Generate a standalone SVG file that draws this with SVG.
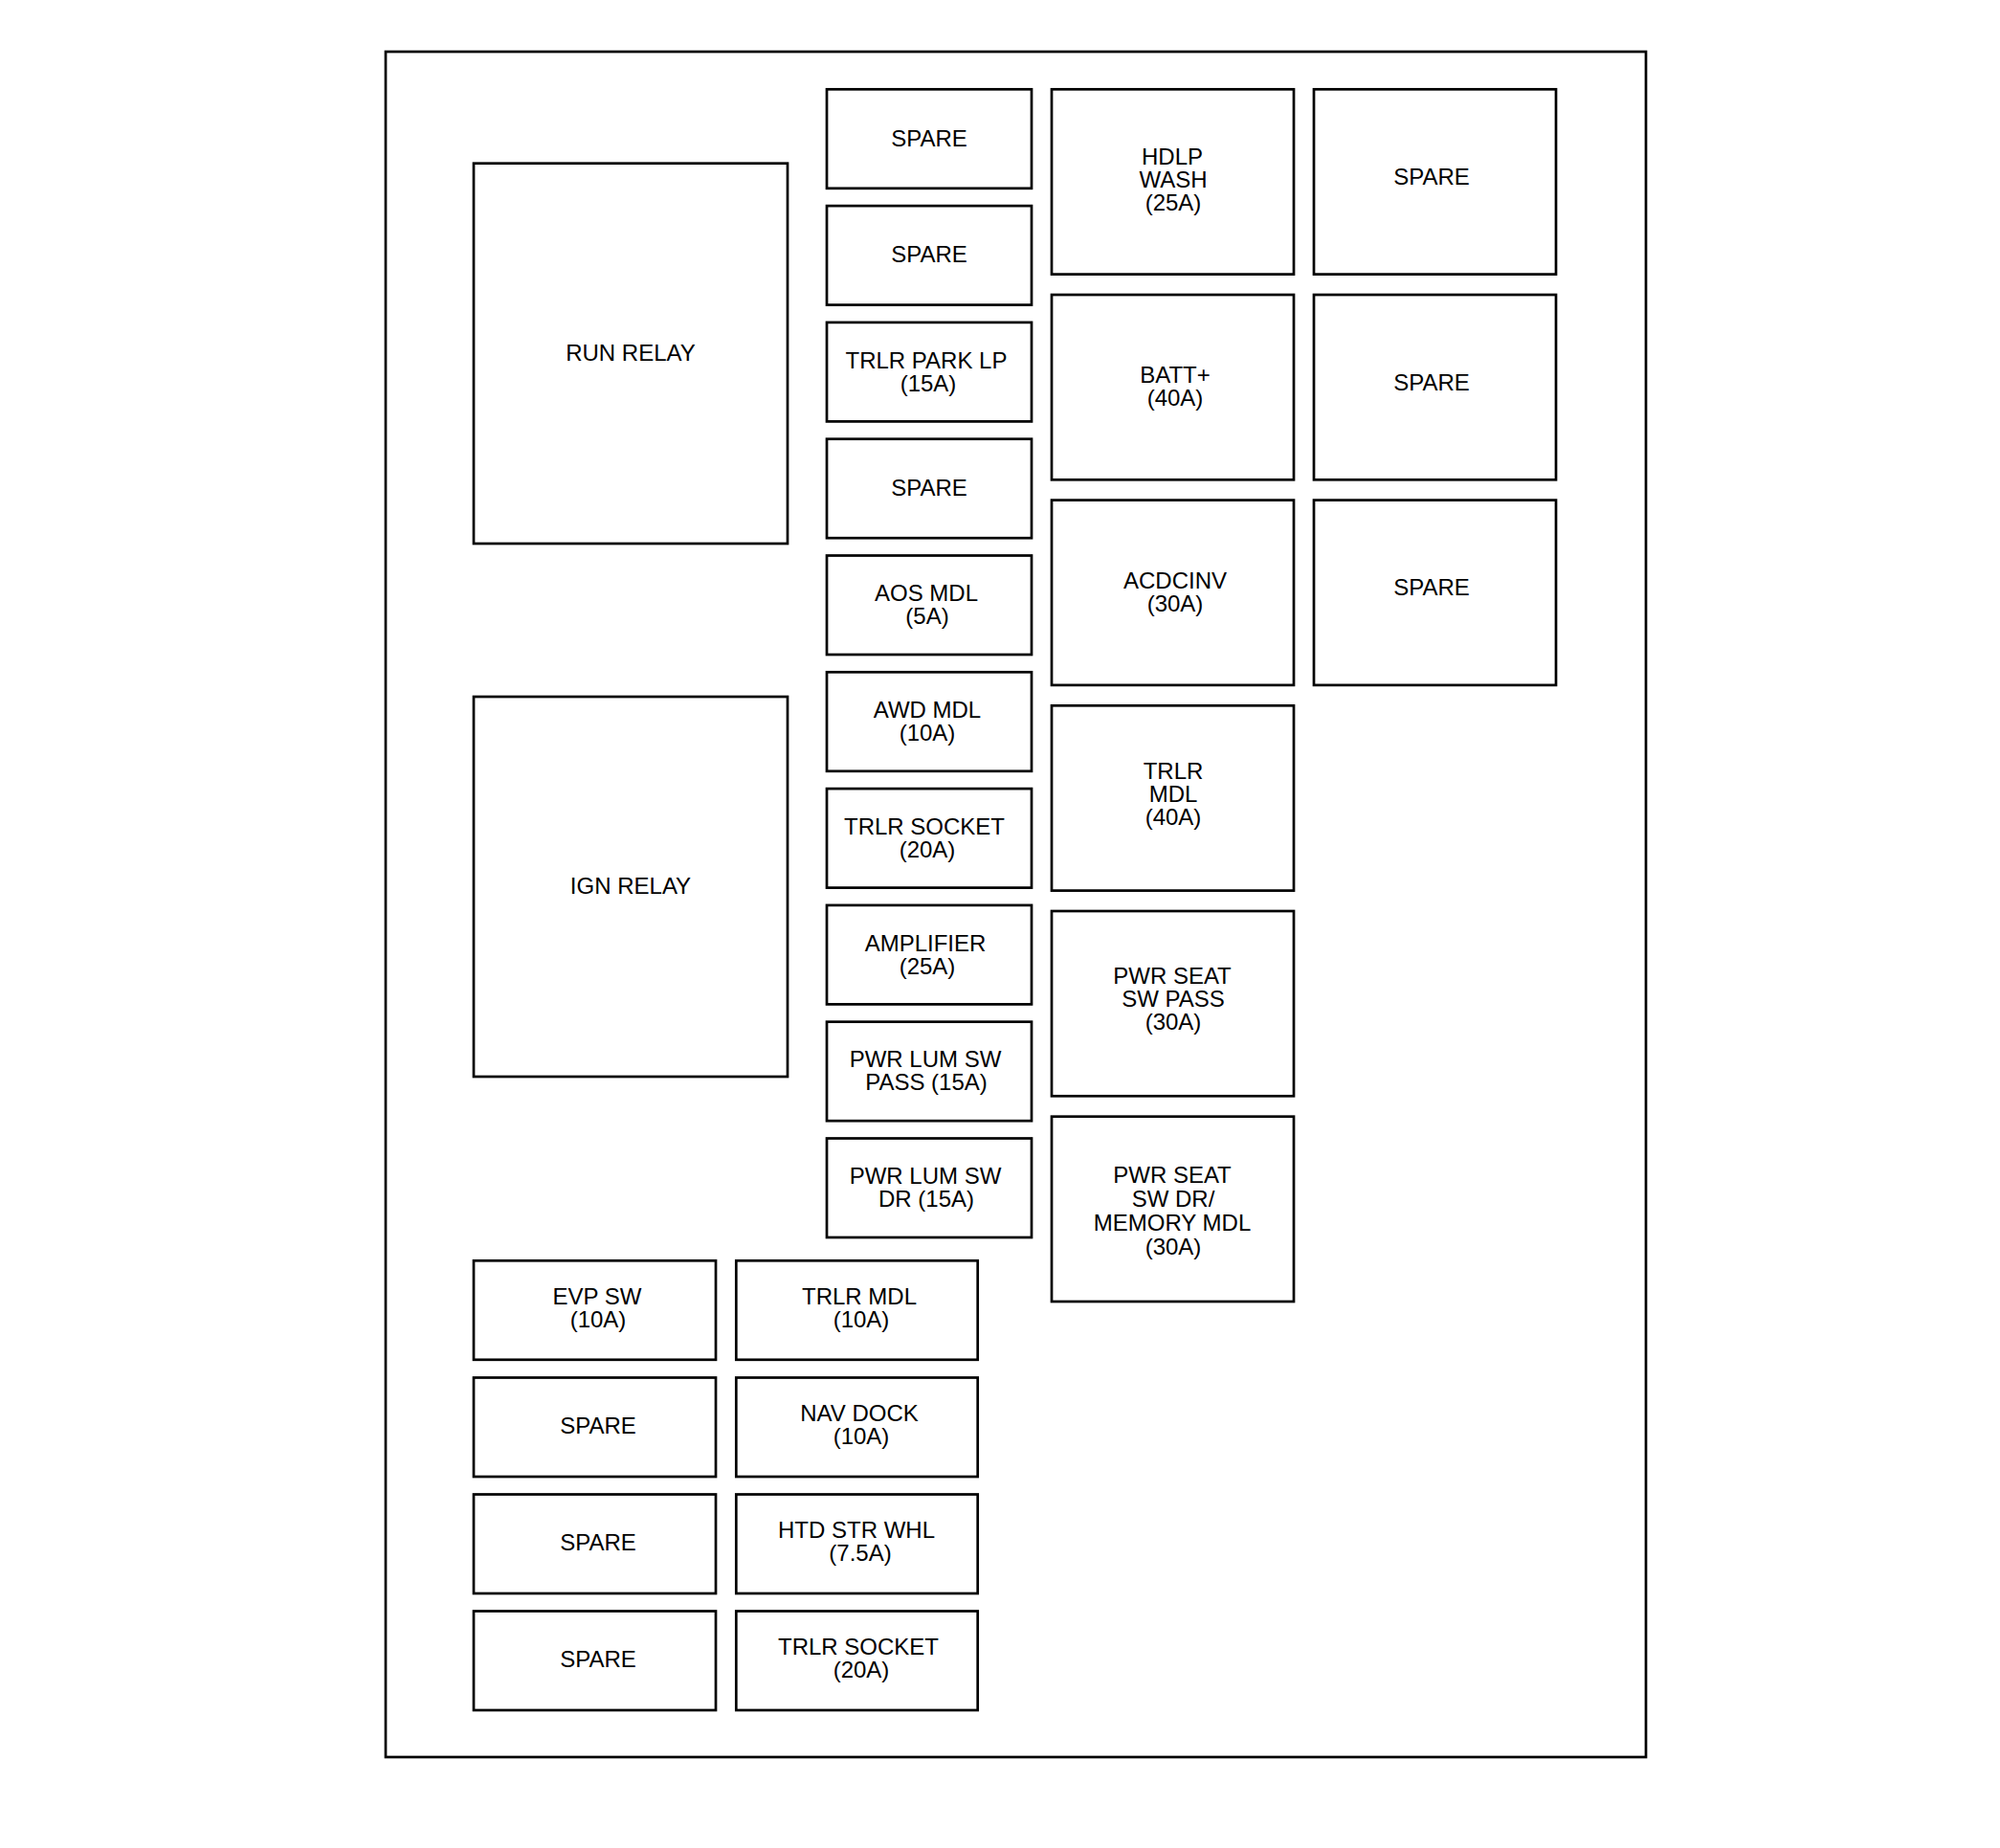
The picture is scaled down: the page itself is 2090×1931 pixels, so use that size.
<svg xmlns="http://www.w3.org/2000/svg" width="2090" height="1931" viewBox="0 0 2090 1931">
<style>
.b{fill:#fff;stroke:#000;stroke-width:2.7}
text{font-family:"Liberation Sans",Arial,sans-serif;font-size:24px;fill:#000;text-anchor:middle}
</style>
<rect width="2090" height="1931" fill="#fff"/>
<rect id="frame" class="b" x="403" y="54" width="1317" height="1782"/>
<g id="run-relay"><rect class="b" x="495" y="170.7" width="328" height="397.3"/><text x="659" y="377">RUN RELAY</text></g>
<g id="ign-relay"><rect class="b" x="495" y="728" width="328" height="397"/><text x="659" y="934">IGN RELAY</text></g>
<g id="f-c2-1"><rect class="b" x="864" y="93.3" width="214" height="103.5"/><text x="971" y="152.5">SPARE</text></g>
<g id="f-c2-2"><rect class="b" x="864" y="215.1" width="214" height="103.5"/><text x="971" y="274.3">SPARE</text></g>
<g id="f-c2-3"><rect class="b" x="864" y="336.9" width="214" height="103.5"/><text><tspan x="968" y="384.5">TRLR PARK LP</tspan><tspan x="970" dy="24">(15A)</tspan></text></g>
<g id="f-c2-4"><rect class="b" x="864" y="458.7" width="214" height="103.5"/><text x="971" y="517.9">SPARE</text></g>
<g id="f-c2-5"><rect class="b" x="864" y="580.5" width="214" height="103.5"/><text><tspan x="968" y="628">AOS MDL</tspan><tspan x="969" dy="24">(5A)</tspan></text></g>
<g id="f-c2-6"><rect class="b" x="864" y="702.3" width="214" height="103.5"/><text><tspan x="969" y="750">AWD MDL</tspan><tspan x="969" dy="24">(10A)</tspan></text></g>
<g id="f-c2-7"><rect class="b" x="864" y="824.1" width="214" height="103.5"/><text><tspan x="966" y="871.8">TRLR SOCKET</tspan><tspan x="969" dy="24">(20A)</tspan></text></g>
<g id="f-c2-8"><rect class="b" x="864" y="945.9" width="214" height="103.5"/><text><tspan x="967" y="993.6">AMPLIFIER</tspan><tspan x="969" dy="24">(25A)</tspan></text></g>
<g id="f-c2-9"><rect class="b" x="864" y="1067.7" width="214" height="103.5"/><text><tspan x="967" y="1115.4">PWR LUM SW</tspan><tspan x="968" dy="24">PASS (15A)</tspan></text></g>
<g id="f-c2-10"><rect class="b" x="864" y="1189.5" width="214" height="103.5"/><text><tspan x="967" y="1237.2">PWR LUM SW</tspan><tspan x="968" dy="24">DR (15A)</tspan></text></g>
<g id="f-c3-1"><rect class="b" x="1099" y="93.3" width="253" height="193.3"/><text><tspan x="1225" y="171.5">HDLP</tspan><tspan x="1226" dy="24">WASH</tspan><tspan x="1226" dy="24">(25A)</tspan></text></g>
<g id="f-c3-2"><rect class="b" x="1099" y="308" width="253" height="193.3"/><text><tspan x="1228" y="400">BATT+</tspan><tspan x="1228" dy="24">(40A)</tspan></text></g>
<g id="f-c3-3"><rect class="b" x="1099" y="522.6" width="253" height="193.3"/><text><tspan x="1228" y="614.6">ACDCINV</tspan><tspan x="1228" dy="24">(30A)</tspan></text></g>
<g id="f-c3-4"><rect class="b" x="1099" y="737.3" width="253" height="193.3"/><text><tspan x="1226" y="813.5">TRLR</tspan><tspan x="1226" dy="24">MDL</tspan><tspan x="1226" dy="24">(40A)</tspan></text></g>
<g id="f-c3-5"><rect class="b" x="1099" y="952" width="253" height="193.3"/><text><tspan x="1225" y="1028.3">PWR SEAT</tspan><tspan x="1226" dy="24">SW PASS</tspan><tspan x="1226" dy="24">(30A)</tspan></text></g>
<g id="f-c3-6"><rect class="b" x="1099" y="1166.7" width="253" height="193.3"/><text><tspan x="1225" y="1235.5">PWR SEAT</tspan><tspan x="1226" dy="25">SW DR/</tspan><tspan x="1225" dy="25">MEMORY MDL</tspan><tspan x="1226" dy="25">(30A)</tspan></text></g>
<g id="f-c4-1"><rect class="b" x="1373" y="93.3" width="253" height="193.3"/><text x="1496" y="193">SPARE</text></g>
<g id="f-c4-2"><rect class="b" x="1373" y="308" width="253" height="193.3"/><text x="1496" y="408">SPARE</text></g>
<g id="f-c4-3"><rect class="b" x="1373" y="522.6" width="253" height="193.3"/><text x="1496" y="622.3">SPARE</text></g>
<g id="f-b1-1"><rect class="b" x="495" y="1317.3" width="253" height="103.5"/><text><tspan x="624" y="1362.5">EVP SW</tspan><tspan x="625" dy="24">(10A)</tspan></text></g>
<g id="f-b1-2"><rect class="b" x="495" y="1439.5" width="253" height="103.5"/><text x="625" y="1498">SPARE</text></g>
<g id="f-b1-3"><rect class="b" x="495" y="1561.5" width="253" height="103.5"/><text x="625" y="1620">SPARE</text></g>
<g id="f-b1-4"><rect class="b" x="495" y="1683.5" width="253" height="103.5"/><text x="625" y="1742">SPARE</text></g>
<g id="f-b2-1"><rect class="b" x="769.3" y="1317.3" width="252.4" height="103.5"/><text><tspan x="898" y="1362.5">TRLR MDL</tspan><tspan x="900" dy="24">(10A)</tspan></text></g>
<g id="f-b2-2"><rect class="b" x="769.3" y="1439.5" width="252.4" height="103.5"/><text><tspan x="898" y="1484.5">NAV DOCK</tspan><tspan x="900" dy="24">(10A)</tspan></text></g>
<g id="f-b2-3"><rect class="b" x="769.3" y="1561.5" width="252.4" height="103.5"/><text><tspan x="895" y="1606.5">HTD STR WHL</tspan><tspan x="899" dy="24">(7.5A)</tspan></text></g>
<g id="f-b2-4"><rect class="b" x="769.3" y="1683.5" width="252.4" height="103.5"/><text><tspan x="897" y="1728.5">TRLR SOCKET</tspan><tspan x="900" dy="24">(20A)</tspan></text></g>
<g id="connectors"/>
</svg>
